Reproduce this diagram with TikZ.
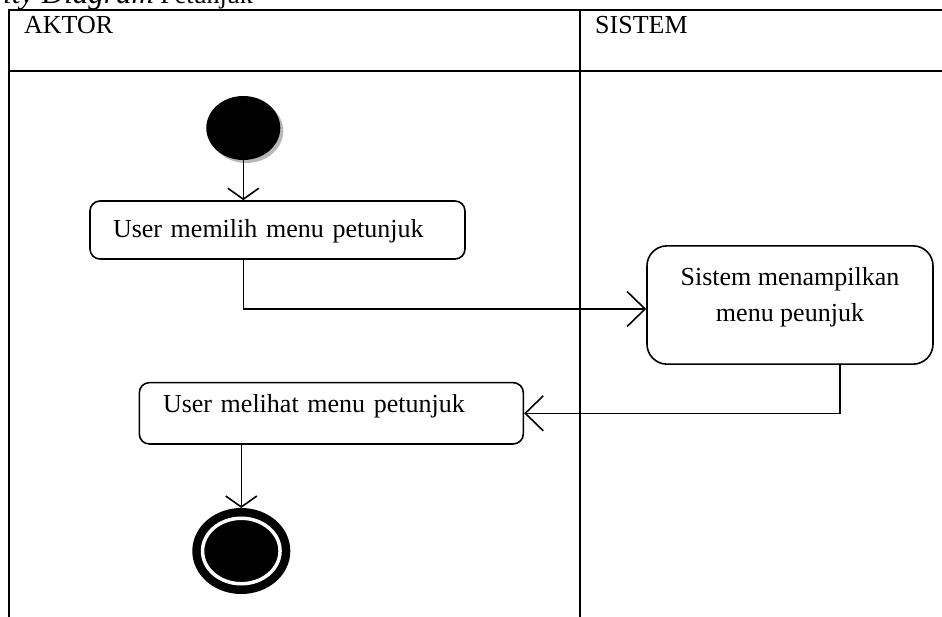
\documentclass[tikz,border=0pt]{standalone}
\usepackage{fontspec}
\setmainfont{Liberation Serif}
\usetikzlibrary{arrows.meta,shapes.geometric,shadows}

\begin{document}
\begin{tikzpicture}[x=1pt,y=-1pt,
  lbl/.style={inner sep=0pt, font=\fontsize{26}{31}\selectfont},
  act/.style={draw, line width=1.6pt, inner sep=0pt, font=\fontsize{26}{36.7}\selectfont},
  flowv/.style={line width=1.6pt, -{Straight Barb[length=11pt,width=31pt]}},
  flowh/.style={line width=1.6pt, -{Straight Barb[length=18pt,width=35pt]}},
  lane/.style={line width=2.6pt}]

\useasboundingbox (0,0) rectangle (942,616);
\clip (0,0) rectangle (942,616);

% caption (mostly above the page)
\node[anchor=base east, inner sep=0pt, font=\fontsize{26}{31}\selectfont] (caption) at (253,3)
  {{\fontsize{31}{36}\selectfont\itshape Activity Diagram} Petunjuk};

% swimlane frame
\draw[lane] (9,10) rectangle (990,660);
\draw[lane] (9,71) -- (990,71);
\draw[lane] (580,10) -- (580,660);
\node[lbl, anchor=base west] (aktor) at (24,33.5) {AKTOR};
\node[lbl, anchor=base west] (sistem) at (595,33.5) {SISTEM};

% initial node
\node[ellipse, fill=black, minimum width=74pt, minimum height=64pt, inner sep=0pt,
  drop shadow={shadow xshift=3pt, shadow yshift=-3pt, fill=black!28, opacity=1}]
  (start) at (243.3,128) {};

% activities
\node[act, rounded corners=10pt, minimum width=375pt, minimum height=58pt,
  text width=329pt, align=left, text height=17pt, text depth=1.6pt]
  (b1) at (277.5,230) {User memilih menu petunjuk};
\node[act, rounded corners=20pt, minimum width=286pt, minimum height=118.3pt,
  text height=53.7pt, text depth=20pt]
  (b2) at (790,305) {\begin{tabular}[b]{@{}c@{}}Sistem menampilkan\\ menu peunjuk\end{tabular}};
\node[act, rounded corners=10pt, minimum width=384pt, minimum height=61.3pt,
  text width=336.6pt, align=left, text height=17pt, text depth=19.4pt]
  (b3) at (331.3,413.3) {User melihat menu petunjuk};

% final node
\node[ellipse, fill=black, draw=black, line width=8.5pt, double=white, double distance=3.5pt,
  minimum width=77.5pt, minimum height=65.5pt, inner sep=0pt, outer sep=10.25pt]
  (end) at (241.3,551) {};

% control flow
\draw[flowv] (start) -- (b1.north -| start);
\draw[flowh] (b1.south -| start) |- ([yshift=-4pt]b2.west);
\draw[flowh] ([xshift=50pt]b2.south) |- (b3.east);
\draw[flowv] (b3.south -| end) -- (end);
\end{tikzpicture}
\end{document}
